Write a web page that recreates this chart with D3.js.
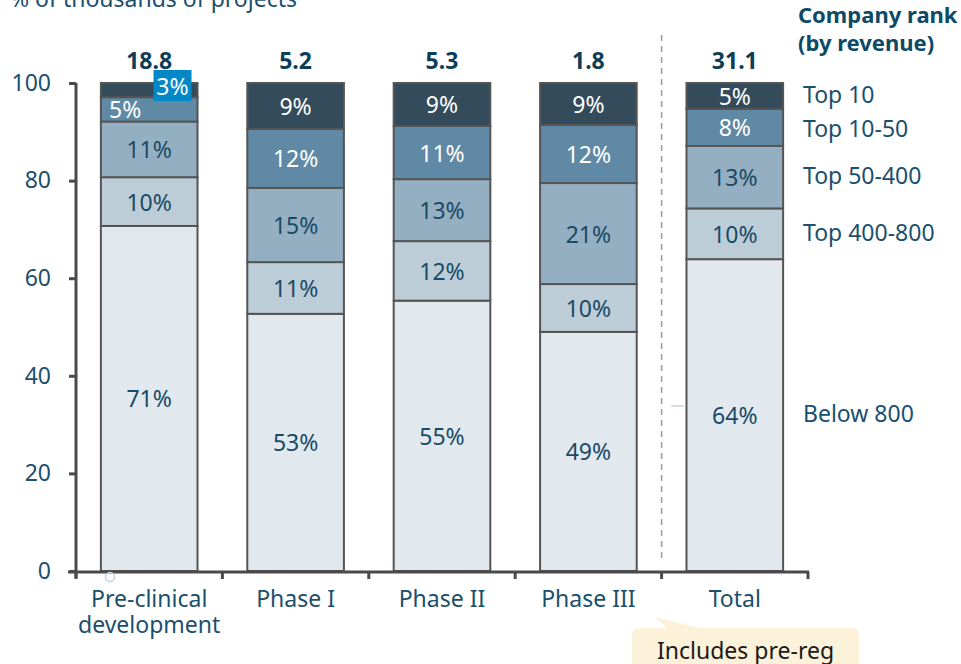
<!DOCTYPE html>
<html>
<head>
<meta charset="utf-8">
<script src="https://cdn.jsdelivr.net/npm/d3@7"></script>
<style>
  body { margin: 0; background: #fff; }
  svg { display: block; font-family: "Noto Sans", "Open Sans", sans-serif; }
</style>
</head>
<body>
<div id="chart"></div>
<script>
const categories = ["Pre-clinical development", "Phase I", "Phase II", "Phase III", "Total"];
const totals = ["18.8", "5.2", "5.3", "1.8", "31.1"];
const ranks = ["Below 800", "Top 400-800", "Top 50-400", "Top 10-50", "Top 10"];
// share of projects per rank, bottom to top, one array per category
const preClinical = [70.7, 10.0, 11.4, 5.0, 2.9];
const phaseOne = [52.7, 10.6, 15.2, 12.1, 9.4];
const phaseTwo = [55.4, 12.2, 12.7, 10.9, 8.8];
const phaseThree = [49.0, 9.8, 20.7, 11.9, 8.6];
const total = [63.9, 10.4, 12.8, 7.6, 5.3];
const yTicks = [0, 20, 40, 60, 80, 100];

const seriesValues = [preClinical, phaseOne, phaseTwo, phaseThree, total];
const rankColors = ["#e1e9ee", "#bccdd8", "#94afc2", "#5f89a4", "#344b5b"];
const labelColors = ["#1a4a66", "#1a4a66", "#1a4a66", "#ffffff", "#ffffff"];
const textColor = "#1a4f6e";
const fs = 23;

const width = 961, height = 664;
const svg = d3.select("#chart").append("svg")
  .attr("width", width).attr("height", height);

const x = d3.scaleBand()
  .domain(categories)
  .range([76, 808])
  .paddingInner(0.34)
  .paddingOuter(0.17);

const y = d3.scaleLinear().domain([0, 100]).range([571, 83]);

// title (cut off at top)
svg.append("text")
  .attr("x", 10).attr("y", 7)
  .attr("font-size", 23).attr("fill", textColor)
  .text("% of thousands of projects");

// build stacked rows
const rows = categories.map((c, i) => {
  const row = { category: c };
  ranks.forEach((r, j) => row[r] = seriesValues[i][j]);
  return row;
});
const stack = d3.stack().keys(ranks)(rows);

// dashed separator before Total
const sepX = x("Total") - x.step() * x.paddingInner() / 2;
svg.append("line")
  .attr("x1", sepX).attr("x2", sepX)
  .attr("y1", 35).attr("y2", 562)
  .attr("stroke", "#9a9a9a").attr("stroke-width", 1.5)
  .attr("stroke-dasharray", "6,5");

// bars
const layer = svg.selectAll("g.layer")
  .data(stack)
  .enter().append("g")
  .attr("class", "layer");

layer.selectAll("rect")
  .data((d, i) => d.map(p => ({ p, i })))
  .enter().append("rect")
  .attr("x", d => x(d.p.data.category))
  .attr("width", x.bandwidth())
  .attr("y", d => y(d.p[1]))
  .attr("height", d => y(d.p[0]) - y(d.p[1]))
  .attr("fill", d => rankColors[d.i])
  .attr("stroke", "#555").attr("stroke-width", 2);

// highlight box behind the small 3% label
const tinyX = x(categories[0]) + x.bandwidth() - 44;
svg.append("rect")
  .attr("x", tinyX).attr("y", 70)
  .attr("width", 38).attr("height", 31)
  .attr("fill", "#0288c6");

// segment labels
const labels = svg.append("g");
stack.forEach((s, i) => {
  labels.selectAll(null)
    .data(s)
    .enter().append("text")
    .attr("x", p => {
      const cx = x(p.data.category) + x.bandwidth() / 2;
      if (p.data.category === categories[0] && i === 4) return tinyX + 19;
      if (p.data.category === categories[0] && i === 3) return cx - 24;
      return cx;
    })
    .attr("y", p => {
      if (p.data.category === categories[0] && i === 4) return 86;
      return (y(p[0]) + y(p[1])) / 2;
    })
    .attr("text-anchor", "middle")
    .attr("dominant-baseline", "central")
    .attr("font-size", fs)
    .attr("fill", labelColors[i])
    .text(p => Math.round(p[1] - p[0]) + "%");
});

// totals above bars
svg.selectAll("text.total")
  .data(categories)
  .enter().append("text")
  .attr("class", "total")
  .attr("x", d => x(d) + x.bandwidth() / 2)
  .attr("y", 69)
  .attr("text-anchor", "middle")
  .attr("font-size", fs).attr("font-weight", "bold")
  .attr("fill", "#0d3d57")
  .text((d, i) => totals[i]);

// y axis
const yAxis = svg.append("g")
  .attr("transform", "translate(76,0)")
  .call(d3.axisLeft(y).tickValues(yTicks).tickSize(7).tickSizeOuter(0));
yAxis.select(".domain").attr("stroke", "#4a4a4a").attr("stroke-width", 3)
  .attr("d", "M0,83V578");
yAxis.selectAll(".tick line").attr("stroke", "#4a4a4a").attr("stroke-width", 3);
yAxis.selectAll(".tick text")
  .attr("x", -25)
  .attr("font-size", fs).attr("font-family", "Noto Sans")
  .attr("fill", textColor);

// x axis with ticks at category boundaries
svg.append("line")
  .attr("x1", 68).attr("x2", 809)
  .attr("y1", 572).attr("y2", 572)
  .attr("stroke", "#4a4a4a").attr("stroke-width", 3);
const bounds = categories.map(c => x(c) - x.step() * x.paddingInner() / 2)
  .concat([x(categories[4]) + x.bandwidth() + x.step() * x.paddingInner() / 2]);
svg.selectAll("line.xtick")
  .data(bounds)
  .enter().append("line")
  .attr("class", "xtick")
  .attr("x1", d => d).attr("x2", d => d)
  .attr("y1", 572).attr("y2", 579)
  .attr("stroke", "#4a4a4a").attr("stroke-width", 3);

const catLabel = svg.selectAll("text.cat")
  .data(categories)
  .enter().append("text")
  .attr("class", "cat")
  .attr("x", d => x(d) + x.bandwidth() / 2)
  .attr("y", 607)
  .attr("text-anchor", "middle")
  .attr("font-size", fs).attr("fill", textColor);
catLabel.each(function(d) {
  const t = d3.select(this);
  if (d === categories[0]) {
    t.append("tspan").attr("x", x(d) + x.bandwidth() / 2).text("Pre-clinical");
    t.append("tspan").attr("x", x(d) + x.bandwidth() / 2).attr("dy", 26).text("development");
  } else {
    t.text(d);
  }
});

// legend header
svg.append("text")
  .attr("x", 798).attr("y", 23)
  .attr("font-size", 22).attr("font-weight", "bold").attr("fill", "#0d4a66")
  .selectAll("tspan")
  .data(["Company rank", "(by revenue)"])
  .enter().append("tspan")
  .attr("x", 798).attr("dy", (d, i) => i ? 28 : 0)
  .text(d => d);

// legend labels aligned with the Total bar segments
const totalStack = stack.map(s => s[4]);
svg.selectAll("text.legend")
  .data(ranks)
  .enter().append("text")
  .attr("class", "legend")
  .attr("x", 803)
  .attr("y", (d, i) => (y(totalStack[i][0]) + y(totalStack[i][1])) / 2 - 2 + (i === 3 ? 3 : 0))
  .attr("dominant-baseline", "central")
  .attr("font-size", fs).attr("fill", textColor)
  .text(d => d);

// small decorations
svg.append("circle")
  .attr("cx", 110).attr("cy", 577).attr("r", 4.5)
  .attr("fill", "none").attr("stroke", "#c5d3dc").attr("stroke-width", 1.5);
svg.append("line")
  .attr("x1", 671).attr("x2", 684).attr("y1", 406).attr("y2", 406)
  .attr("stroke", "#c5d3dc").attr("stroke-width", 1.5);

// callout
const callout = svg.append("g");
callout.append("path")
  .attr("d", "M655,617 L700,628 L670,630 Z")
  .attr("fill", "#fcf1d9");
callout.append("rect")
  .attr("x", 632).attr("y", 628).attr("width", 227).attr("height", 50)
  .attr("rx", 6).attr("fill", "#fcf1d9");
callout.append("text")
  .attr("x", 657).attr("y", 659)
  .attr("font-size", fs).attr("fill", "#1a1a1a")
  .text("Includes pre-reg");
</script>
</body>
</html>
